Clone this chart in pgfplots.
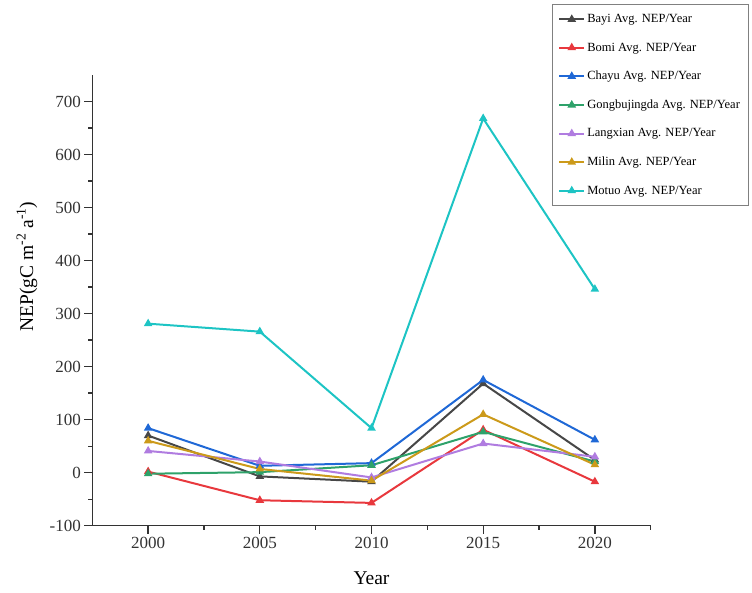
\documentclass[border=0pt]{standalone}
\usepackage{pgfplots}
\pgfplotsset{compat=1.18}
\usepackage{fontspec}
\setmainfont{Liberation Serif}
\definecolor{cBayi}{HTML}{474747}
\definecolor{cBomi}{HTML}{E8383D}
\definecolor{cChayu}{HTML}{1F68D6}
\definecolor{cGong}{HTML}{2EA26A}
\definecolor{cLang}{HTML}{B07CE0}
\definecolor{cMilin}{HTML}{CC9A1A}
\definecolor{cMotuo}{HTML}{1DC4C4}
\definecolor{axgray}{HTML}{333333}
\begin{document}
\begin{tikzpicture}
\useasboundingbox (-92.3pt,-66.3pt) rectangle (659.7pt,525.7pt);
\begin{axis}[
  scale only axis,
  width=558.4pt, height=450.7pt,
  at={(0,0)}, anchor=south west,
  xmin=1997.5, xmax=2022.5,
  ymin=-100, ymax=750,
  axis lines=left,
  axis line style={-, line width=1.3pt, color=axgray},
  xtick={2000,2005,2010,2015,2020},
  minor xtick={2002.5,2007.5,2012.5,2017.5,2022.5},
  ytick={-100,0,100,200,300,400,500,600,700},
  yticklabels={-100,0,100,200,300,400,500,600,700},
  minor ytick={-50,50,150,250,350,450,550,650},
  tick align=outside,
  major tick length=8pt,
  minor tick length=4pt,
  tick style={line width=1.3pt, color=axgray},
  xticklabel style={/pgf/number format/1000 sep={}},
  /pgf/number format/assume math mode=true,
  tick label style={font=\fontsize{17}{20}\selectfont, color=axgray},
  xlabel={Year},
  ylabel={NEP(gC m\textsuperscript{-2} a\textsuperscript{-1})},
  label style={font=\fontsize{19.5}{22}\selectfont, color=black},
  xlabel style={at={(axis description cs:0.5,-0.116)}, anchor=center},
  ylabel style={at={(axis description cs:-0.117,0.575)}, anchor=center},
  legend style={at={(rel axis cs:0.823,1.1575)}, anchor=north west,
    draw=gray, line width=0.8pt, font=\fontsize{12.5}{14}\selectfont,
    row sep=14.6pt, inner xsep=6pt, inner ysep=8pt, fill=white},
  legend cell align=left,
  legend image code/.code={\draw[mark repeat=2,mark phase=2] plot coordinates {(0pt,0pt)(12.5pt,0pt)(25pt,0pt)};},
  every axis plot/.append style={line width=2pt, mark=triangle*, mark size=3pt, mark options={solid}},
  clip=false,
]
\addplot[color=cBayi] coordinates {(2000,70) (2005,-7) (2010,-17) (2015,168) (2020,24)};
\addlegendentry{Bayi Avg. NEP/Year}
\addplot[color=cBomi] coordinates {(2000,2) (2005,-52) (2010,-57) (2015,81) (2020,-17)};
\addlegendentry{Bomi Avg. NEP/Year}
\addplot[color=cChayu] coordinates {(2000,84) (2005,13) (2010,18) (2015,175) (2020,62)};
\addlegendentry{Chayu Avg. NEP/Year}
\addplot[color=cGong] coordinates {(2000,-2) (2005,1) (2010,14) (2015,77) (2020,21)};
\addlegendentry{Gongbujingda Avg. NEP/Year}
\addplot[color=cLang] coordinates {(2000,41) (2005,21) (2010,-9) (2015,55) (2020,30)};
\addlegendentry{Langxian Avg. NEP/Year}
\addplot[color=cMilin] coordinates {(2000,60) (2005,7) (2010,-15) (2015,110) (2020,15)};
\addlegendentry{Milin Avg. NEP/Year}
\addplot[color=cMotuo] coordinates {(2000,281) (2005,266) (2010,84) (2015,668) (2020,346)};
\addlegendentry{Motuo Avg. NEP/Year}
\end{axis}
\end{tikzpicture}
\end{document}
